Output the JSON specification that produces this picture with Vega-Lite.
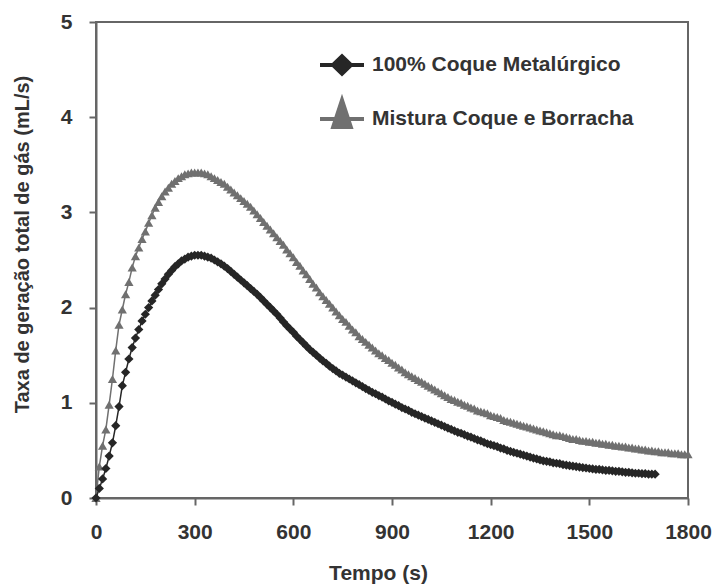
{
  "$schema": "https://vega.github.io/schema/vega-lite/v6.json",
  "autosize": {"type": "none"},
  "padding": {"left": 96, "top": 22, "right": 25, "bottom": 86},
  "width": 592,
  "height": 476,
  "background": "#ffffff",
  "config": {
    "view": {"stroke": "#666666", "strokeWidth": 2},
    "font": "Liberation Sans",
    "axis": {"grid": false},
    "legend": {
      "orient": "none", "legendX": 222, "legendY": 19,
      "title": null, "padding": 0,
      "labelFont": "Liberation Sans", "labelFontSize": 21, "labelFontWeight": "bold", "labelColor": "#333333",
      "labelLimit": 400, "labelOffset": 6, "rowPadding": 10,
      "symbolSize": 1936, "symbolStrokeWidth": 4, "symbolOpacity": 1
    }
  },
  "data": {"values": [
    {"t":0,"a":0,"b":0},{"t":10,"a":0.10,"b":0.33},{"t":20,"a":0.20,"b":0.55},{"t":30,"a":0.31,"b":0.72},{"t":40,"a":0.44,"b":0.98},
    {"t":50,"a":0.58,"b":1.25},{"t":60,"a":0.76,"b":1.55},{"t":70,"a":0.96,"b":1.82},{"t":80,"a":1.18,"b":1.98},{"t":90,"a":1.32,"b":2.14},
    {"t":100,"a":1.46,"b":2.27},{"t":110,"a":1.58,"b":2.42},{"t":120,"a":1.68,"b":2.54},{"t":130,"a":1.77,"b":2.63},{"t":140,"a":1.86,"b":2.72},
    {"t":150,"a":1.93,"b":2.80},{"t":160,"a":2.00,"b":2.89},{"t":170,"a":2.07,"b":2.97},{"t":180,"a":2.13,"b":3.05},{"t":190,"a":2.19,"b":3.11},
    {"t":200,"a":2.25,"b":3.17},{"t":210,"a":2.30,"b":3.22},{"t":220,"a":2.35,"b":3.26},{"t":230,"a":2.39,"b":3.30},{"t":240,"a":2.43,"b":3.33},
    {"t":250,"a":2.46,"b":3.36},{"t":260,"a":2.49,"b":3.38},{"t":270,"a":2.51,"b":3.40},{"t":280,"a":2.53,"b":3.41},{"t":290,"a":2.54,"b":3.42},
    {"t":300,"a":2.55,"b":3.42},{"t":310,"a":2.55,"b":3.42},{"t":320,"a":2.55,"b":3.42},{"t":330,"a":2.54,"b":3.41},{"t":340,"a":2.53,"b":3.40},
    {"t":350,"a":2.52,"b":3.38},{"t":360,"a":2.50,"b":3.36},{"t":370,"a":2.48,"b":3.34},{"t":380,"a":2.46,"b":3.32},{"t":390,"a":2.435,"b":3.30},
    {"t":400,"a":2.41,"b":3.27},{"t":410,"a":2.38,"b":3.24},{"t":420,"a":2.35,"b":3.21},{"t":430,"a":2.32,"b":3.18},{"t":440,"a":2.29,"b":3.15},
    {"t":450,"a":2.26,"b":3.12},{"t":460,"a":2.23,"b":3.09},{"t":470,"a":2.20,"b":3.06},{"t":480,"a":2.17,"b":3.02},{"t":490,"a":2.14,"b":2.98},
    {"t":500,"a":2.105,"b":2.94},{"t":510,"a":2.07,"b":2.90},{"t":520,"a":2.035,"b":2.86},{"t":530,"a":2.00,"b":2.82},{"t":540,"a":1.965,"b":2.78},
    {"t":550,"a":1.93,"b":2.74},{"t":560,"a":1.89,"b":2.70},{"t":570,"a":1.85,"b":2.66},{"t":580,"a":1.81,"b":2.61},{"t":590,"a":1.775,"b":2.57},
    {"t":600,"a":1.74,"b":2.53},{"t":610,"a":1.70,"b":2.48},{"t":620,"a":1.665,"b":2.44},{"t":630,"a":1.63,"b":2.39},{"t":640,"a":1.595,"b":2.35},
    {"t":650,"a":1.56,"b":2.30},{"t":660,"a":1.53,"b":2.25},{"t":670,"a":1.50,"b":2.21},{"t":680,"a":1.47,"b":2.16},{"t":690,"a":1.44,"b":2.12},
    {"t":700,"a":1.415,"b":2.08},{"t":710,"a":1.385,"b":2.04},{"t":720,"a":1.36,"b":2.00},{"t":730,"a":1.335,"b":1.96},{"t":740,"a":1.31,"b":1.92},
    {"t":750,"a":1.29,"b":1.88},{"t":760,"a":1.27,"b":1.85},{"t":770,"a":1.25,"b":1.81},{"t":780,"a":1.23,"b":1.77},{"t":790,"a":1.21,"b":1.74},
    {"t":800,"a":1.19,"b":1.70},{"t":810,"a":1.17,"b":1.67},{"t":820,"a":1.15,"b":1.64},{"t":830,"a":1.13,"b":1.61},{"t":840,"a":1.11,"b":1.58},
    {"t":850,"a":1.095,"b":1.55},{"t":860,"a":1.075,"b":1.52},{"t":870,"a":1.06,"b":1.50},{"t":880,"a":1.04,"b":1.47},{"t":890,"a":1.02,"b":1.45},
    {"t":900,"a":1.005,"b":1.42},{"t":910,"a":0.985,"b":1.40},{"t":920,"a":0.97,"b":1.37},{"t":930,"a":0.95,"b":1.35},{"t":940,"a":0.935,"b":1.32},
    {"t":950,"a":0.92,"b":1.30},{"t":960,"a":0.90,"b":1.28},{"t":970,"a":0.885,"b":1.26},{"t":980,"a":0.87,"b":1.24},{"t":990,"a":0.855,"b":1.22},
    {"t":1000,"a":0.84,"b":1.20},{"t":1010,"a":0.825,"b":1.18},{"t":1020,"a":0.81,"b":1.16},{"t":1030,"a":0.795,"b":1.14},{"t":1040,"a":0.78,"b":1.12},
    {"t":1050,"a":0.765,"b":1.10},{"t":1060,"a":0.75,"b":1.08},{"t":1070,"a":0.735,"b":1.06},{"t":1080,"a":0.72,"b":1.04},{"t":1090,"a":0.705,"b":1.03},
    {"t":1100,"a":0.69,"b":1.01},{"t":1110,"a":0.68,"b":1.00},{"t":1120,"a":0.665,"b":0.98},{"t":1130,"a":0.65,"b":0.97},{"t":1140,"a":0.64,"b":0.95},
    {"t":1150,"a":0.625,"b":0.94},{"t":1160,"a":0.61,"b":0.92},{"t":1170,"a":0.60,"b":0.91},{"t":1180,"a":0.585,"b":0.90},{"t":1190,"a":0.57,"b":0.89},
    {"t":1200,"a":0.56,"b":0.87},{"t":1210,"a":0.55,"b":0.86},{"t":1220,"a":0.54,"b":0.85},{"t":1230,"a":0.525,"b":0.84},{"t":1240,"a":0.515,"b":0.82},
    {"t":1250,"a":0.50,"b":0.81},{"t":1260,"a":0.49,"b":0.80},{"t":1270,"a":0.48,"b":0.79},{"t":1280,"a":0.47,"b":0.78},{"t":1290,"a":0.46,"b":0.77},
    {"t":1300,"a":0.45,"b":0.76},{"t":1310,"a":0.44,"b":0.75},{"t":1320,"a":0.43,"b":0.74},{"t":1330,"a":0.42,"b":0.73},{"t":1340,"a":0.41,"b":0.72},
    {"t":1350,"a":0.40,"b":0.71},{"t":1360,"a":0.39,"b":0.70},{"t":1370,"a":0.385,"b":0.69},{"t":1380,"a":0.38,"b":0.68},{"t":1390,"a":0.37,"b":0.67},
    {"t":1400,"a":0.365,"b":0.66},{"t":1410,"a":0.36,"b":0.66},{"t":1420,"a":0.35,"b":0.65},{"t":1430,"a":0.345,"b":0.64},{"t":1440,"a":0.34,"b":0.63},
    {"t":1450,"a":0.335,"b":0.62},{"t":1460,"a":0.33,"b":0.62},{"t":1470,"a":0.325,"b":0.61},{"t":1480,"a":0.32,"b":0.60},{"t":1490,"a":0.315,"b":0.60},
    {"t":1500,"a":0.31,"b":0.59},{"t":1510,"a":0.305,"b":0.59},{"t":1520,"a":0.30,"b":0.58},{"t":1530,"a":0.30,"b":0.58},{"t":1540,"a":0.295,"b":0.57},
    {"t":1550,"a":0.29,"b":0.57},{"t":1560,"a":0.29,"b":0.56},{"t":1570,"a":0.285,"b":0.56},{"t":1580,"a":0.28,"b":0.55},{"t":1590,"a":0.28,"b":0.55},
    {"t":1600,"a":0.275,"b":0.54},{"t":1610,"a":0.27,"b":0.54},{"t":1620,"a":0.27,"b":0.53},{"t":1630,"a":0.265,"b":0.53},{"t":1640,"a":0.26,"b":0.52},
    {"t":1650,"a":0.26,"b":0.52},{"t":1660,"a":0.255,"b":0.51},{"t":1670,"a":0.255,"b":0.51},{"t":1680,"a":0.25,"b":0.50},{"t":1690,"a":0.25,"b":0.50},
    {"t":1700,"a":0.25,"b":0.49},{"t":1710,"b":0.49},{"t":1720,"b":0.48},{"t":1730,"b":0.48},{"t":1740,"b":0.48},
    {"t":1750,"b":0.47},{"t":1760,"b":0.47},{"t":1770,"b":0.47},{"t":1780,"b":0.46},{"t":1790,"b":0.46},{"t":1800,"b":0.46}
  ]},
  "transform": [
    {"fold": ["a", "b"], "as": ["serie", "v"]},
    {"filter": "isValid(datum.v)"}
  ],
  "encoding": {
    "x": {
      "field": "t", "type": "quantitative",
      "scale": {"domain": [0, 1800], "nice": false},
      "axis": {
        "values": [0, 300, 600, 900, 1200, 1500, 1800],
        "format": "d",
        "title": "Tempo (s)",
        "titleFont": "Liberation Sans", "titleFontSize": 21, "titleFontWeight": "bold", "titleColor": "#333333",
        "titleX": 282, "titleY": 75, "titleBaseline": "middle",
        "labelFont": "Liberation Sans", "labelFontSize": 21, "labelFontWeight": "bold", "labelColor": "#333333",
        "labelPadding": 16, "labelFlush": false, "labelOverlap": false,
        "domainColor": "#666666", "domainWidth": 2,
        "tickColor": "#666666", "tickWidth": 2, "tickSize": 7
      }
    },
    "y": {
      "field": "v", "type": "quantitative",
      "scale": {"domain": [0, 5], "nice": false},
      "axis": {
        "values": [0, 1, 2, 3, 4, 5],
        "title": "Taxa de geração total de gás (mL/s)",
        "titleFont": "Liberation Sans", "titleFontSize": 20, "titleFontWeight": "bold", "titleColor": "#333333",
        "titleX": -74, "titleY": 222, "titleBaseline": "middle", "titleAngle": -90,
        "labelFont": "Liberation Sans", "labelFontSize": 21, "labelFontWeight": "bold", "labelColor": "#333333",
        "labelPadding": 17, "labelFlush": false, "labelOverlap": false,
        "domainColor": "#666666", "domainWidth": 2,
        "tickColor": "#666666", "tickWidth": 2, "tickSize": 7
      }
    }
  },
  "layer": [
    {
      "transform": [{"filter": "datum.serie == 'b'"}],
      "mark": {"type": "line", "color": "#707070", "strokeWidth": 1.5, "clip": false}
    },
    {
      "transform": [{"filter": "datum.serie == 'b'"}],
      "mark": {"type": "point", "shape": "triangle-up", "filled": true, "color": "#707070", "opacity": 1, "size": 85, "clip": false}
    },
    {
      "transform": [{"filter": "datum.serie == 'a'"}],
      "mark": {"type": "line", "color": "#262626", "strokeWidth": 1.5, "clip": false}
    },
    {
      "transform": [{"filter": "datum.serie == 'a'"}],
      "mark": {"type": "point", "shape": "diamond", "filled": true, "color": "#262626", "opacity": 1, "size": 85, "clip": false}
    },
    {
      "transform": [{"filter": "datum.t == 0"}],
      "mark": {"type": "point", "filled": true, "opacity": 0},
      "encoding": {
        "fill": {
          "field": "serie", "type": "nominal",
          "scale": {"domain": ["a", "b"], "range": ["#262626", "#707070"]},
          "legend": {"labelExpr": "datum.value == 'a' ? '100% Coque Metalúrgico' : 'Mistura Coque e Borracha'", "symbolOpacity": 1, "symbolStrokeWidth": 4, "symbolSize": 1936}
        },
        "stroke": {
          "field": "serie", "type": "nominal",
          "scale": {"domain": ["a", "b"], "range": ["#262626", "#707070"]},
          "legend": {"labelExpr": "datum.value == 'a' ? '100% Coque Metalúrgico' : 'Mistura Coque e Borracha'", "symbolOpacity": 1, "symbolStrokeWidth": 4, "symbolSize": 1936}
        },
        "shape": {
          "field": "serie", "type": "nominal",
          "scale": {"domain": ["a", "b"], "range": ["M-1,0L1,0M-0.41,0L0,-0.4L0.41,0L0,0.4Z", "M-1,0L1,0M-0.4,0.36L0,-0.86L0.4,0.36Z"]},
          "legend": {"labelExpr": "datum.value == 'a' ? '100% Coque Metalúrgico' : 'Mistura Coque e Borracha'", "symbolOpacity": 1, "symbolStrokeWidth": 4, "symbolSize": 1936}
        }
      }
    }
  ]
}
